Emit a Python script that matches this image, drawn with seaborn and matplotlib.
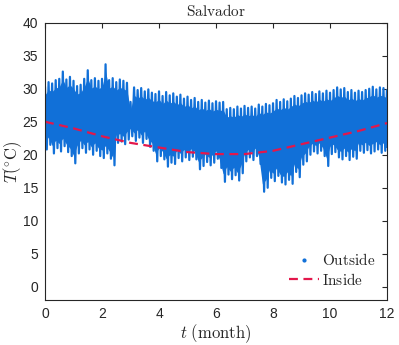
import numpy as np
import pandas as pd
import matplotlib
matplotlib.use("Agg")
import matplotlib.pyplot as plt
import seaborn as sns
from matplotlib.lines import Line2D

# ---- data ----
month_step = 0.125
outside_hi = [30.3, 31.0, 30.8, 31.3, 31.5, 32.6, 31.4, 31.8, 31.2, 30.4, 30.6, 31.5, 32.8, 31.3, 31.6, 31.2,
              31.5, 33.7, 31.3, 31.6, 31.0, 31.4, 31.2, 30.9, 28.0, 30.2, 29.8, 30.1, 29.6, 29.9, 29.4, 29.2,
              29.6, 28.9, 29.5, 29.0, 29.3, 28.8, 29.1, 28.5, 28.8, 28.3, 28.6, 28.0, 28.3, 27.9, 28.2, 27.8,
              28.1, 27.9, 28.0, 26.9, 27.1, 26.9, 27.3, 27.0, 27.4, 27.1, 27.3, 27.0, 27.6, 27.3, 27.7, 27.5,
              27.8, 28.3, 28.0, 28.4, 28.1, 28.5, 28.9, 28.6, 29.0, 29.3, 29.1, 29.5, 29.2, 29.6, 29.3, 29.7,
              29.4, 29.8, 30.2, 29.9, 30.1, 29.5, 29.8, 29.4, 29.7, 29.5, 29.8, 30.0, 30.3, 29.9, 30.2, 30.1,
              29.8]
outside_lo = [20.8, 21.5, 20.2, 21.0, 20.5, 21.3, 20.4, 19.8, 18.7, 20.2, 21.0, 20.3, 20.8, 20.0, 20.6, 19.8,
              19.5, 20.2, 19.4, 18.4, 21.8, 22.0, 21.6, 22.3, 22.8, 22.1, 22.6, 21.8, 22.4, 21.2, 20.6, 19.0,
              19.8, 19.3, 18.2, 18.8, 18.6, 19.5, 19.0, 19.6, 19.2, 19.7, 19.3, 17.8, 18.3, 18.9, 18.4, 18.8,
              19.4, 18.0, 15.9, 17.0, 16.3, 16.9, 16.1, 17.2, 19.0, 19.6, 19.2, 19.8, 18.6, 14.4, 15.0, 16.5,
              16.0, 16.8, 15.8, 15.5, 16.2, 15.6, 17.4, 16.6, 18.5, 19.0, 20.0, 20.5, 20.2, 20.6, 19.8, 18.3,
              20.1, 20.4, 19.6, 19.3, 19.8, 19.2, 19.7, 19.4, 20.6, 20.3, 20.7, 20.2, 20.5, 20.8, 20.3, 20.6,
              21.2]
inside_month = [0, 1, 2, 3, 4, 5, 6, 7, 8, 9, 10, 11, 12]
inside_T = [25.0, 24.0, 22.8, 21.8, 21.1, 20.4, 20.1, 20.1, 20.6, 21.6, 22.6, 23.6, 24.8]
xticks = [0, 2, 4, 6, 8, 10, 12]
yticks = [0, 5, 10, 15, 20, 25, 30, 35, 40]

blue = "#1170d8"
red = "#e3174b"

sns.set_style("white")
plt.rcParams["mathtext.fontset"] = "cm"

t = np.arange(len(outside_hi)) * month_step
# zig-zag path through the highs and lows
zz_t = np.empty(2 * len(t))
zz_T = np.empty(2 * len(t))
zz_t[0::2] = t
zz_t[1::2] = t + month_step / 2
zz_T[0::2] = outside_hi
zz_T[1::2] = outside_lo
zz_t = np.clip(zz_t, 0, 12)
zz = pd.DataFrame({"t": zz_t, "T": zz_T})
ins = pd.DataFrame({"t": inside_month, "T": inside_T})

fig = plt.figure(figsize=(3.99, 3.45), dpi=100)
ax = fig.add_axes([0.1128, 0.1304, 0.8572, 0.8038])

lo_s = np.array(outside_lo)
hi_s = np.array(outside_hi)
ax.fill_between(t, lo_s + 1.2, hi_s - 1.2, color=blue, linewidth=0)
sns.lineplot(data=zz, x="t", y="T", ax=ax, color=blue, linewidth=1.6, sort=False,
             estimator=None)
sns.lineplot(data=ins, x="t", y="T", ax=ax, color=red, linewidth=1.6,
             linestyle=(0, (4, 2.5)))

ax.set_xlim(0, 12)
ax.set_ylim(-2, 40)
ax.set_xticks(xticks)
ax.set_yticks(yticks)
ax.tick_params(direction="in", length=3.5, width=0.8, top=True, right=True,
               labelsize=10, colors="#262626", pad=5)
for lab in ax.get_xticklabels() + ax.get_yticklabels():
    lab.set_fontfamily("Liberation Sans")
for s in ax.spines.values():
    s.set_visible(True)
    s.set_color("#262626")
    s.set_linewidth(0.8)

ax.set_title(r"$\mathrm{Salvador}$", fontsize=11, pad=5)
ax.set_xlabel(r"$t\ \mathrm{(month)}$", fontsize=12)
ax.xaxis.set_label_coords(0.5, -0.082)
ax.set_ylabel(r"$T(^{\circ}\mathrm{C})$", fontsize=12)
ax.yaxis.set_label_coords(-0.062, 0.5)

handles = [Line2D([], [], color=blue, marker=".", linestyle="none", markersize=4),
           Line2D([], [], color=red, linewidth=1.6, linestyle=(0, (4, 2.5)))]
ax.legend(handles, [r"$\mathrm{Outside}$", r"$\mathrm{Inside}$"], loc="lower right",
          frameon=False, fontsize=11, handlelength=2.0, handletextpad=0.15,
          labelspacing=0.25, borderaxespad=0.4)

fig.savefig("out.png", dpi=100)
